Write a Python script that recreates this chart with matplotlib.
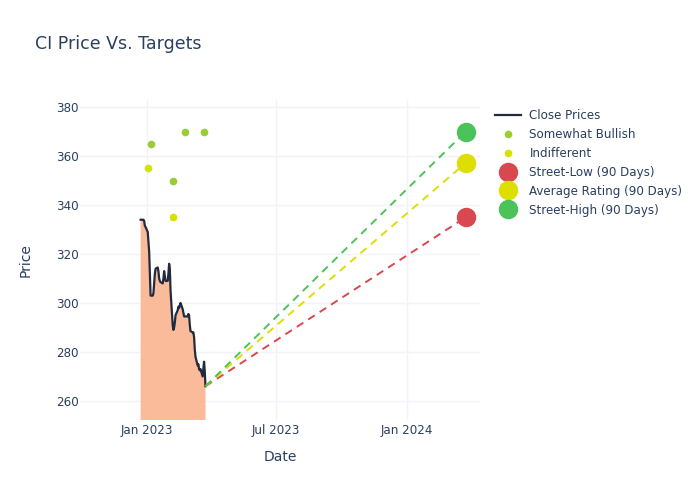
import numpy as np
import pandas as pd
import matplotlib.pyplot as plt
import matplotlib.dates as mdates

# close prices, one per business day
price_dates = pd.bdate_range('2022-12-23', '2023-03-24')
close_prices = [334, 334, 334, 333.5, 331.5, 331,
                329, 325, 321, 312, 303, 303, 304, 308, 312, 314,
                314.5, 313, 310, 309, 308.5, 308, 310, 313, 311, 309,
                309, 312, 316, 314, 305, 291, 289, 290, 292, 295,
                297, 298.5, 298, 299, 300, 297.5, 296, 294.5, 294.5, 294.5,
                294.5, 295.5, 295, 291, 288.5, 288, 288, 286, 281, 278,
                274.5, 275, 273, 272.5, 273, 270, 273, 276, 272, 266]

bullish_dates = pd.to_datetime(['2023-01-06', '2023-02-06', '2023-02-23', '2023-03-22'])
bullish_targets = [365, 350, 370, 370]
indiff_dates = pd.to_datetime(['2023-01-02', '2023-02-07'])
indiff_targets = [355, 335]

target_date = pd.Timestamp('2024-03-23')
street_low = 335
avg_rating = 357.2
street_high = 370

txt = '#2a3f5f'
grid = '#f0f3f9'

fig = plt.figure(figsize=(7, 5), dpi=100)
ax = fig.add_axes([80/700, 80/500, 400/700, 320/500])

ax.fill_between(price_dates, close_prices, 0, color='#f9b48f', alpha=0.9, lw=0)
ax.plot(price_dates, close_prices, color='#222a3f', lw=1.6, label='Close Prices')
ax.plot(bullish_dates, bullish_targets, 'o', color='#9acd32', ms=4.5, label='Somewhat Bullish')
ax.plot(indiff_dates, indiff_targets, 'o', color='#d8e000', ms=4.5, label='Indifferent')

last_d, last_p = price_dates[-1], close_prices[-1]
for val, col, lab in [(street_low, '#d9474f', 'Street-Low (90 Days)'),
                      (avg_rating, '#dede00', 'Average Rating (90 Days)'),
                      (street_high, '#4cc35a', 'Street-High (90 Days)')]:
    ax.plot([last_d, target_date], [last_p, val], color=col, lw=1.4, dashes=(4, 3))
    ax.plot([target_date], [val], 'o', color=col, ms=13, label=lab)

ax.set_xlim(pd.Timestamp('2022-09-29'), pd.Timestamp('2024-04-12'))
ax.set_ylim(252.2, 382.9)
ax.set_yticks(np.arange(260, 381, 20))
ax.xaxis.set_major_locator(mdates.MonthLocator(bymonth=[1, 7]))
ax.xaxis.set_major_formatter(mdates.DateFormatter('%b %Y'))
ax.grid(True, color=grid, lw=1)
ax.set_axisbelow(True)
for s in ax.spines.values():
    s.set_visible(False)
ax.tick_params(length=0, labelsize=8.6, colors=txt)
ax.tick_params(axis='x', pad=3)
ax.tick_params(axis='y', pad=1)

ax.set_xlabel('Date', fontsize=10, color=txt, labelpad=9)
ax.set_ylabel('Price', fontsize=10, color=txt, labelpad=17)
fig.text(35/700, 1 - 44/500, 'CI Price Vs. Targets', fontsize=12.5, color=txt, va='center')

fig.legend(loc='upper left', bbox_to_anchor=(490/700, 1 - 104/500), frameon=False,
           fontsize=8.6, labelcolor=txt, handlelength=2.2, labelspacing=0.5,
           borderaxespad=0, handletextpad=0.7)

fig.savefig('out.png', dpi=100)
